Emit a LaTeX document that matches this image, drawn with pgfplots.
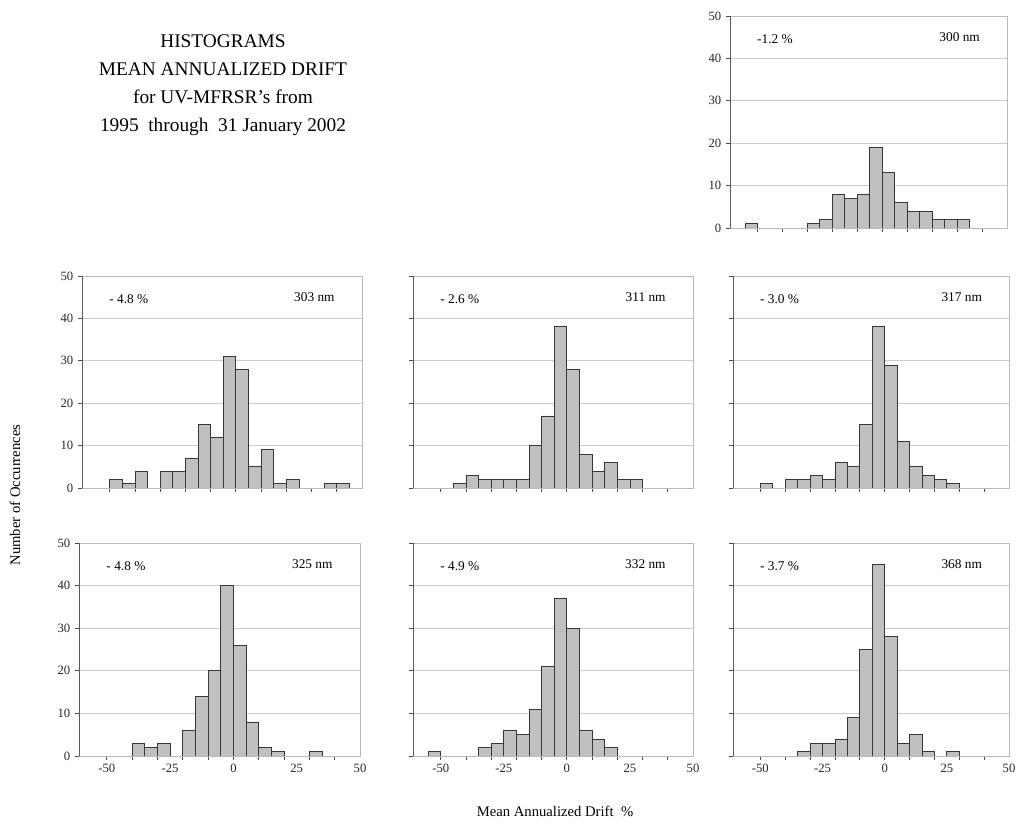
\documentclass[border=0pt]{standalone}
\usepackage{fontspec}
\setmainfont{Liberation Serif}
\usepackage{pgfplots}
\pgfplotsset{compat=1.18}
\definecolor{barfill}{RGB}{192,192,192}
\definecolor{baredge}{RGB}{55,55,55}
\pgfplotsset{
  panel/.style={
    scale only axis, anchor=north west,
    xmin=-61, xmax=50, ymin=0, ymax=50,
    ytick={0,10,...,50},
    xtick={-50,-40,...,40}, xticklabels={},
    tick pos=left, tick align=outside,
    major tick length=3pt,
    every tick/.style={black!70, line width=0.6pt},
    ymajorgrids, major grid style={gray!40, line width=0.6pt},
    axis line style={gray!55, line width=0.6pt},
    tick label style={font=\fontsize{9.5}{10}\selectfont, text=black!85},
    yticklabels={},
    ybar, bar width=5,
  },
  hbar/.style={fill=barfill, draw=baredge, line width=0.6pt},
  ylab/.style={yticklabels={0,10,20,30,40,50}},
  xlab/.style={extra x ticks={-50,-25,0,25,50},
    extra x tick labels={-50,-25,0,25,50},
    extra x tick style={major tick length=0pt, grid=none,
      tick label style={yshift=-2.5pt}}},
}
\newcommand{\frameLB}{\draw[black!65, line width=0.7pt] (rel axis cs:0,1) -- (rel axis cs:0,0) -- (rel axis cs:1,0);}
\newcommand{\annot}[2]{%
  \node[anchor=west, font=\fontsize{10}{11}\selectfont] at (axis cs:-52,44.5) {#1};
  \node[anchor=east, font=\fontsize{10}{11}\selectfont] at (axis cs:41,45) {#2};}
\begin{document}
\begin{tikzpicture}
\useasboundingbox (0,0) rectangle (762pt,-617.25pt);
% title
\node[align=center, font=\fontsize{14.5}{21}\selectfont] at (167.25pt,-64pt)
  {HISTOGRAMS\\MEAN ANNUALIZED DRIFT\\for UV-MFRSR's from\\1995~ through~ 31 January 2002};
\node[rotate=90, font=\fontsize{11}{12}\selectfont] at (11.25pt,-371.25pt) {Number of Occurrences};
\node[font=\fontsize{11}{12}\selectfont] at (416.25pt,-608.25pt) {Mean Annualized Drift~ \%};

% 300 nm
\begin{axis}[panel, ylab, at={(547.5pt,-12pt)}, width=207.75pt, height=159pt]
\addplot[hbar] coordinates {(-52.5,1) (-27.5,1) (-22.5,2) (-17.5,8) (-12.5,7) (-7.5,8) (-2.5,19) (2.5,13) (7.5,6) (12.5,4) (17.5,4) (22.5,2) (27.5,2) (32.5,2)};
\frameLB \annot{-1.2 \%}{300 nm}
\end{axis}

% 303 nm
\begin{axis}[panel, ylab, at={(61.5pt,-207pt)}, width=210pt, height=159pt]
\addplot[hbar] coordinates {(-47.5,2) (-42.5,1) (-37.5,4) (-27.5,4) (-22.5,4) (-17.5,7) (-12.5,15) (-7.5,12) (-2.5,31) (2.5,28) (7.5,5) (12.5,9) (17.5,1) (22.5,2) (37.5,1) (42.5,1)};
\frameLB \annot{- 4.8 \%}{303 nm}
\end{axis}

% 311 nm
\begin{axis}[panel, at={(309.75pt,-207pt)}, width=210pt, height=159pt]
\addplot[hbar] coordinates {(-42.5,1) (-37.5,3) (-32.5,2) (-27.5,2) (-22.5,2) (-17.5,2) (-12.5,10) (-7.5,17) (-2.5,38) (2.5,28) (7.5,8) (12.5,4) (17.5,6) (22.5,2) (27.5,2)};
\frameLB \annot{- 2.6 \%}{311 nm}
\end{axis}

% 317 nm
\begin{axis}[panel, at={(549.75pt,-207pt)}, width=207pt, height=159pt]
\addplot[hbar] coordinates {(-47.5,1) (-37.5,2) (-32.5,2) (-27.5,3) (-22.5,2) (-17.5,6) (-12.5,5) (-7.5,15) (-2.5,38) (2.5,29) (7.5,11) (12.5,5) (17.5,3) (22.5,2) (27.5,1)};
\frameLB \annot{- 3.0 \%}{317 nm}
\end{axis}

% 325 nm
\begin{axis}[panel, ylab, xlab, at={(59.25pt,-407.25pt)}, width=210.75pt, height=159.75pt]
\addplot[hbar] coordinates {(-37.5,3) (-32.5,2) (-27.5,3) (-17.5,6) (-12.5,14) (-7.5,20) (-2.5,40) (2.5,26) (7.5,8) (12.5,2) (17.5,1) (32.5,1)};
\frameLB \annot{- 4.8 \%}{325 nm}
\end{axis}

% 332 nm
\begin{axis}[panel, xlab, at={(309.75pt,-407.25pt)}, width=210pt, height=159.75pt]
\addplot[hbar] coordinates {(-52.5,1) (-32.5,2) (-27.5,3) (-22.5,6) (-17.5,5) (-12.5,11) (-7.5,21) (-2.5,37) (2.5,30) (7.5,6) (12.5,4) (17.5,2)};
\frameLB \annot{- 4.9 \%}{332 nm}
\end{axis}

% 368 nm
\begin{axis}[panel, xlab, at={(549.75pt,-407.25pt)}, width=207pt, height=159.75pt]
\addplot[hbar] coordinates {(-32.5,1) (-27.5,3) (-22.5,3) (-17.5,4) (-12.5,9) (-7.5,25) (-2.5,45) (2.5,28) (7.5,3) (12.5,5) (17.5,1) (27.5,1)};
\frameLB \annot{- 3.7 \%}{368 nm}
\end{axis}
\end{tikzpicture}
\end{document}
